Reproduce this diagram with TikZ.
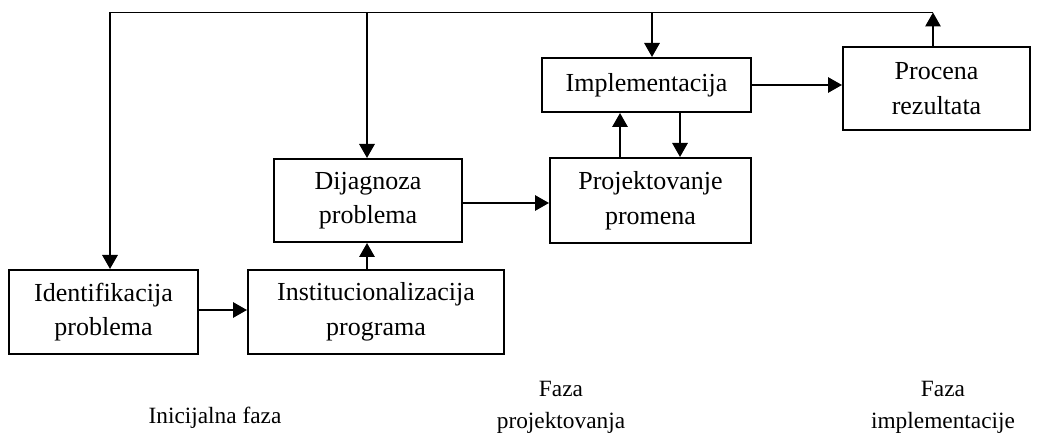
\documentclass[tikz,border=0pt]{standalone}
\usepackage{fontspec}
\setmainfont{Liberation Serif}
\usetikzlibrary{arrows.meta}
\begin{document}
\begin{tikzpicture}[x=0.75pt,y=-0.75pt,
  box/.style={draw,line width=1.5pt,inner sep=0pt,align=center,
    font=\fontsize{19.5}{26}\selectfont},
  lbl/.style={inner sep=0pt,align=center,font=\fontsize{17.5}{24}\selectfont},
  conn/.style={line width=1.5pt,-{Triangle[length=10.5pt,width=11.5pt]}},
  plain/.style={line width=1.1pt}]
\useasboundingbox (0,0) rectangle (1038,434);
\node[box,minimum width=141.75pt,minimum height=63pt] (ident) at (103.5,312) {Identifikacija\\problema};
\node[box,minimum width=192pt,minimum height=63pt] (inst) at (376,312) {Institucionalizacija\\programa};
\node[box,minimum width=141pt,minimum height=62.25pt] (diag) at (368,200.5) {Dijagnoza\\problema};
\node[box,minimum width=150.75pt,minimum height=63.75pt] (proj) at (650.5,200.5) {Projektovanje\\promena};
\node[box,minimum width=156.75pt,minimum height=40.5pt] (impl) at (646.5,85) {Implementacija};
\node[box,minimum width=140.25pt,minimum height=62.25pt] (proc) at (936.5,88.5) {Procena\\rezultata};
\coordinate (tl) at (110,12.5);
\coordinate (tr) at (933,12.5);
\coordinate (td) at (367,12.5);
\coordinate (ti) at (652,12.5);
\draw[plain] (tl) -- (tr);
\draw[conn] (tl) -- (tl |- ident.north);
\draw[conn] (td) -- (td |- diag.north);
\draw[conn] (ti) -- (ti |- impl.north);
\draw[conn] (tr |- proc.north) -- (tr);
\draw[conn] (ident.east |- 0,310) -- (inst.west |- 0,310);
\draw[conn] (367,0 |- inst.north) -- (367,0 |- diag.south);
\draw[conn] (diag.east |- 0,203) -- (proj.west |- 0,203);
\draw[conn] (620,0 |- proj.north) -- (620,0 |- impl.south);
\draw[conn] (680,0 |- impl.south) -- (680,0 |- proj.north);
\draw[conn] (impl.east) -- (impl.east -| proc.west);
\node[lbl] (l1) at (215,418) {Inicijalna faza};
\node[lbl] (l2) at (561,407) {Faza\\projektovanja};
\node[lbl] (l3) at (943,407) {Faza\\implementacije};
\end{tikzpicture}
\end{document}
